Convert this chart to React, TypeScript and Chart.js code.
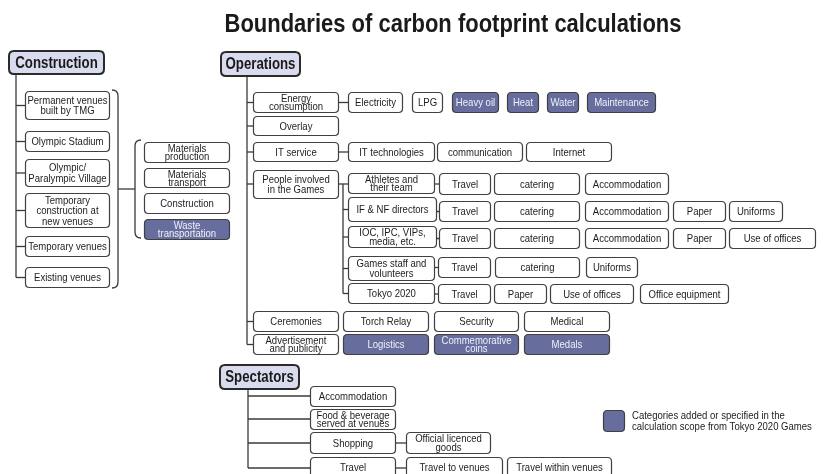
import React, { useEffect, useRef } from "react";
import { Chart, registerables } from "chart.js";
Chart.register(...registerables);

const FONT = "'Liberation Sans', Arial, sans-serif";
const CONDENSE = 0.83;

// ---- content ----
const TITLE = "Boundaries of carbon footprint calculations";
const SECTIONS = ["Construction", "Operations", "Spectators"];
const CONSTRUCTION_VENUES = ["Permanent venues\nbuilt by TMG", "Olympic Stadium", "Olympic/\nParalympic Village", "Temporary\nconstruction at\nnew venues", "Temporary venues", "Existing venues"];
const CONSTRUCTION_STAGES = ["Materials\nproduction", "Materials\ntransport", "Construction", "Waste\ntransportation"];
const OPERATION_AREAS = ["Energy\nconsumption", "Overlay", "IT service", "People involved\nin the Games", "Ceremonies", "Advertisement\nand publicity"];
const ENERGY_SOURCES = ["Electricity", "LPG", "Heavy oil", "Heat", "Water", "Maintenance"];
const IT_ITEMS = ["IT technologies", "communication", "Internet"];
const PEOPLE_GROUPS = ["Athletes and\ntheir team", "IF & NF directors", "IOC, IPC, VIPs,\nmedia, etc.", "Games staff and\nvolunteers", "Tokyo 2020"];
const PEOPLE_ITEMS = [
  ["Travel", "catering", "Accommodation"],
  ["Travel", "catering", "Accommodation", "Paper", "Uniforms"],
  ["Travel", "catering", "Accommodation", "Paper", "Use of offices"],
  ["Travel", "catering", "Uniforms"],
  ["Travel", "Paper", "Use of offices", "Office equipment"],
];
const CEREMONY_ITEMS = ["Torch Relay", "Security", "Medical"];
const PUBLICITY_ITEMS = ["Logistics", "Commemorative\ncoins", "Medals"];
const SPECTATOR_ITEMS = ["Accommodation", "Food & beverage\nserved at venues", "Shopping", "Travel"];
const SHOPPING_ITEMS = ["Official licenced\ngoods"];
const SPECTATOR_TRAVEL_ITEMS = ["Travel to venues", "Travel within venues"];
const ADDED = ["Waste\ntransportation", "Heavy oil", "Heat", "Water", "Maintenance", "Logistics", "Commemorative\ncoins", "Medals"];
const LEGEND_TEXT = ["Categories added or specified in the", "calculation scope from Tokyo 2020 Games"];

// ---- layout (scale units) ----
const HEADER_BOXES = [[8, 50, 105, 75], [220, 51, 301, 77], [219, 364, 300, 390]];
const VENUE_X = [25, 110];
const VENUE_Y = [[91, 120], [131, 152], [159, 187], [193, 228], [236, 257], [267, 288]];
const STAGE_X = [144, 230];
const STAGE_Y = [[142, 163], [168, 188], [193, 214], [219, 240]];
const AREA_X = [253, 339];
const AREA_Y = [[92, 113], [116, 136], [142, 162], [170, 199], [311, 332], [334, 355]];
const ENERGY_X = [[348, 403], [412, 443], [452, 499], [507, 539], [547, 579], [587, 656]];
const IT_X = [[348, 435], [437, 523], [526, 612]];
const GROUP_X = [[348, 435], [348, 437], [348, 437], [348, 435], [348, 435]];
const GROUP_Y = [[173, 194], [197, 222], [226, 248], [256, 281], [283, 304]];
const ITEM_ROW_Y = [[173, 195], [201, 222], [228, 249], [257, 278], [284, 304]];
const ITEM_X = [
  [[439, 491], [494, 580], [585, 669]],
  [[439, 491], [494, 580], [585, 669], [673, 726], [729, 783]],
  [[439, 491], [494, 580], [585, 669], [673, 726], [729, 816]],
  [[438, 491], [495, 580], [586, 638]],
  [[438, 491], [494, 547], [550, 634], [640, 729]],
];
const CEREMONY_X = [[343, 429], [434, 519], [524, 610]];
const SPEC_X = [310, 396];
const SPEC_Y = [[386, 407], [409, 430], [432, 454], [457, 478]];
const SHOP_X = [[406, 491]];
const SPEC_TRAVEL_X = [[406, 503], [507, 612]];
const LEGEND_BOX = [603, 410, 625, 432];

type Box = { t: string; x0: number; y0: number; x1: number; y1: number };

function buildBoxes(): Box[] {
  const b: Box[] = [];
  const add = (t: string, x: number[], y: number[]) => b.push({ t, x0: x[0], y0: y[0], x1: x[1], y1: y[1] });
  CONSTRUCTION_VENUES.forEach((t, i) => add(t, VENUE_X, VENUE_Y[i]));
  CONSTRUCTION_STAGES.forEach((t, i) => add(t, STAGE_X, STAGE_Y[i]));
  OPERATION_AREAS.forEach((t, i) => add(t, AREA_X, AREA_Y[i]));
  ENERGY_SOURCES.forEach((t, i) => add(t, ENERGY_X[i], AREA_Y[0]));
  IT_ITEMS.forEach((t, i) => add(t, IT_X[i], AREA_Y[2]));
  PEOPLE_GROUPS.forEach((t, i) => add(t, GROUP_X[i], GROUP_Y[i]));
  PEOPLE_ITEMS.forEach((row, r) => row.forEach((t, i) => add(t, ITEM_X[r][i], ITEM_ROW_Y[r])));
  CEREMONY_ITEMS.forEach((t, i) => add(t, CEREMONY_X[i], AREA_Y[4]));
  PUBLICITY_ITEMS.forEach((t, i) => add(t, CEREMONY_X[i], AREA_Y[5]));
  SPECTATOR_ITEMS.forEach((t, i) => add(t, SPEC_X, SPEC_Y[i]));
  SHOPPING_ITEMS.forEach((t, i) => add(t, SHOP_X[i], SPEC_Y[2]));
  SPECTATOR_TRAVEL_ITEMS.forEach((t, i) => add(t, SPEC_TRAVEL_X[i], SPEC_Y[3]));
  return b;
}

const mid = (y: number[]) => (y[0] + y[1]) / 2;

function buildLines(): number[][] {
  const L: number[][] = [];
  L.push([16, 75, 16, mid(VENUE_Y[VENUE_Y.length - 1])]);
  VENUE_Y.forEach((y) => L.push([16, mid(y), VENUE_X[0], mid(y)]));
  L.push([118, 189, 135, 189]);
  L.push([247, 77, 247, mid(AREA_Y[5])]);
  [0, 1, 2, 4, 5].forEach((i) => L.push([247, mid(AREA_Y[i]), AREA_X[0], mid(AREA_Y[i])]));
  L.push([247, 184, AREA_X[0], 184]);
  L.push([AREA_X[1], mid(AREA_Y[0]), ENERGY_X[0][0], mid(AREA_Y[0])]);
  L.push([AREA_X[1], mid(AREA_Y[2]), IT_X[0][0], mid(AREA_Y[2])]);
  L.push([AREA_X[1], 184, 348, 184]);
  L.push([343, 184, 343, mid(GROUP_Y[4])]);
  GROUP_Y.forEach((y, i) => { if (i > 0) L.push([343, mid(y), GROUP_X[i][0], mid(y)]); });
  ITEM_ROW_Y.forEach((y, r) => L.push([GROUP_X[r][1], mid(y), ITEM_X[r][0][0], mid(y)]));
  L.push([248, 390, 248, 468]);
  [396, 419, 443, 468].forEach((y) => L.push([248, y, SPEC_X[0], y]));
  L.push([SPEC_X[1], mid(SPEC_Y[2]), SHOP_X[0][0], mid(SPEC_Y[2])]);
  L.push([SPEC_X[1], 468, SPEC_TRAVEL_X[0][0], 468]);
  return L;
}

function rr(ctx: CanvasRenderingContext2D, x: number, y: number, w: number, h: number, r: number) {
  ctx.beginPath();
  ctx.moveTo(x + r, y);
  ctx.lineTo(x + w - r, y);
  ctx.quadraticCurveTo(x + w, y, x + w, y + r);
  ctx.lineTo(x + w, y + h - r);
  ctx.quadraticCurveTo(x + w, y + h, x + w - r, y + h);
  ctx.lineTo(x + r, y + h);
  ctx.quadraticCurveTo(x, y + h, x, y + h - r);
  ctx.lineTo(x, y + r);
  ctx.quadraticCurveTo(x, y, x + r, y);
  ctx.closePath();
}

function txt(ctx: CanvasRenderingContext2D, s: string, x: number, y: number, k: number) {
  ctx.save();
  ctx.translate(x, y);
  ctx.scale(k, 1);
  ctx.fillText(s, 0, 0);
  ctx.restore();
}

const diagramPlugin = {
  id: "diagram",
  afterDraw(chart: any) {
    const ctx: CanvasRenderingContext2D = chart.ctx;
    const sx = chart.scales.x, sy = chart.scales.y;
    const X = (v: number) => sx.getPixelForValue(v);
    const Y = (v: number) => sy.getPixelForValue(v);
    ctx.save();
    ctx.fillStyle = "#ffffff";
    ctx.fillRect(0, 0, chart.width, chart.height);

    // title
    ctx.fillStyle = "#1a1a1a";
    ctx.font = `bold 26px ${FONT}`;
    ctx.textAlign = "center";
    ctx.textBaseline = "alphabetic";
    const tw = ctx.measureText(TITLE).width;
    txt(ctx, TITLE, X(453), Y(32), Math.min(1, 457 / tw));

    // connector lines
    ctx.strokeStyle = "#3a3a3a";
    ctx.lineWidth = 1.3;
    buildLines().forEach(([a, b, c, d]) => {
      ctx.beginPath();
      ctx.moveTo(X(a), Y(b));
      ctx.lineTo(X(c), Y(d));
      ctx.stroke();
    });
    ctx.beginPath();
    ctx.moveTo(X(112), Y(90));
    ctx.quadraticCurveTo(X(118), Y(90), X(118), Y(96));
    ctx.lineTo(X(118), Y(282));
    ctx.quadraticCurveTo(X(118), Y(288), X(112), Y(288));
    ctx.stroke();
    ctx.beginPath();
    ctx.moveTo(X(141), Y(140));
    ctx.quadraticCurveTo(X(135), Y(140), X(135), Y(146));
    ctx.lineTo(X(135), Y(232));
    ctx.quadraticCurveTo(X(135), Y(238), X(141), Y(238));
    ctx.stroke();

    // boxes
    ctx.font = `11.5px ${FONT}`;
    ctx.textBaseline = "middle";
    buildBoxes().forEach((bx) => {
      const filled = ADDED.includes(bx.t);
      const x = X(bx.x0), y = Y(bx.y0), w = X(bx.x1) - x, h = Y(bx.y1) - y;
      rr(ctx, x + 0.5, y + 0.5, w - 1, h - 1, 4);
      ctx.fillStyle = filled ? "#676e9e" : "#ffffff";
      ctx.fill();
      ctx.strokeStyle = "#404040";
      ctx.lineWidth = 1.2;
      ctx.stroke();
      ctx.fillStyle = filled ? "#eef0fa" : "#1c1c1c";
      const lines = bx.t.split("\n");
      const lh = lines.length > 1 ? Math.min(10.5, (h - 4) / lines.length) : 0;
      const cy = y + h / 2 - ((lines.length - 1) * lh) / 2;
      lines.forEach((ln, i) => txt(ctx, ln, x + w / 2, cy + i * lh + 0.5, CONDENSE));
    });

    // section headers
    HEADER_BOXES.forEach((hb, i) => {
      const x = X(hb[0]), y = Y(hb[1]), w = X(hb[2]) - x, h = Y(hb[3]) - y;
      rr(ctx, x + 1, y + 1, w - 2, h - 2, 5);
      ctx.fillStyle = "#d9dcee";
      ctx.fill();
      ctx.strokeStyle = "#2a2a2a";
      ctx.lineWidth = 2;
      ctx.stroke();
      ctx.fillStyle = "#1a1a1a";
      ctx.font = `bold 17px ${FONT}`;
      txt(ctx, SECTIONS[i], x + w / 2, y + h / 2 + 0.5, 0.78);
    });

    // legend
    {
      const x = X(LEGEND_BOX[0]), y = Y(LEGEND_BOX[1]), w = X(LEGEND_BOX[2]) - x, h = Y(LEGEND_BOX[3]) - y;
      rr(ctx, x + 0.5, y + 0.5, w - 1, h - 1, 4);
      ctx.fillStyle = "#676e9e";
      ctx.fill();
      ctx.strokeStyle = "#404040";
      ctx.lineWidth = 1.2;
      ctx.stroke();
      ctx.fillStyle = "#1c1c1c";
      ctx.font = `11.5px ${FONT}`;
      ctx.textAlign = "left";
      LEGEND_TEXT.forEach((t, i) => txt(ctx, t, X(632), Y(416 + i * 11), CONDENSE));
    }
    ctx.restore();
  },
};

export default function App() {
  const ref = useRef<HTMLCanvasElement | null>(null);
  useEffect(() => {
    document.body.style.margin = "0";
    const chart = new Chart(ref.current as HTMLCanvasElement, {
      type: "scatter",
      data: { datasets: [{ data: [], pointRadius: 0 }] },
      options: {
        animation: false,
        responsive: false,
        devicePixelRatio: 1,
        layout: { padding: 0 },
        scales: {
          x: { type: "linear", min: 0, max: 834, display: false },
          y: { type: "linear", min: 0, max: 474, reverse: true, display: false },
        },
        plugins: { legend: { display: false }, tooltip: { enabled: false } },
      },
      plugins: [diagramPlugin],
    } as any);
    return () => chart.destroy();
  }, []);
  return <canvas ref={ref} width={834} height={474} style={{ display: "block", width: 834, height: 474 }} />;
}
